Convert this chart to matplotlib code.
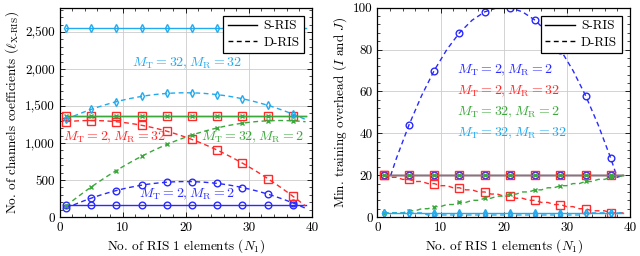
import numpy as np
import matplotlib
matplotlib.use("Agg")
import matplotlib.pyplot as plt
from matplotlib.ticker import FuncFormatter, MultipleLocator
from matplotlib.lines import Line2D

plt.rcParams['font.family'] = ['cmr10', 'DejaVu Serif']
plt.rcParams['mathtext.fontset'] = 'cm'
plt.rcParams['axes.unicode_minus'] = False

# number of RIS 1 elements (N1), total N = 40
n1 = np.arange(1, 40)

# --- left: number of channel coefficients ---
# S-RIS (constant in N1)
coef_s_22 = 160
coef_s_232 = 1360
coef_s_322 = 1360
coef_s_3232 = 2560
# D-RIS
coef_d_22 = [119, 156, 191, 224, 255, 284, 311, 336, 359, 380, 399, 416, 431, 444, 455, 464, 471, 476, 479, 480,
             479, 476, 471, 464, 455, 444, 431, 416, 399, 380, 359, 336, 311, 284, 255, 224, 191, 156, 119]
coef_d_232 = [1289, 1296, 1301, 1304, 1305, 1304, 1301, 1296, 1289, 1280, 1269, 1256, 1241, 1224, 1205, 1184, 1161,
              1136, 1109, 1080, 1049, 1016, 981, 944, 905, 864, 821, 776, 729, 680, 629, 576, 521, 464, 405, 344,
              281, 216, 149]
coef_d_322 = [149, 216, 281, 344, 405, 464, 521, 576, 629, 680, 729, 776, 821, 864, 905, 944, 981, 1016, 1049, 1080,
              1109, 1136, 1161, 1184, 1205, 1224, 1241, 1256, 1269, 1280, 1289, 1296, 1301, 1304, 1305, 1304, 1301,
              1296, 1289]
coef_d_3232 = [1319, 1356, 1391, 1424, 1455, 1484, 1511, 1536, 1559, 1580, 1599, 1616, 1631, 1644, 1655, 1664, 1671,
               1676, 1679, 1680, 1679, 1676, 1671, 1664, 1655, 1644, 1631, 1616, 1599, 1580, 1559, 1536, 1511, 1484,
               1455, 1424, 1391, 1356, 1319]

# --- right: minimum training overhead ---
ovh_s_22 = 20
ovh_s_232 = 20
ovh_s_322 = 20
ovh_s_3232 = 2
ovh_d_22 = [20, 19, 28, 36, 44, 51, 58, 64, 70, 75, 80, 84, 88, 91, 94, 96, 98, 99, 100, 100,
            100, 99, 98, 96, 94, 91, 88, 84, 80, 75, 70, 64, 58, 51, 44, 36, 28, 19, 20]
ovh_d_232 = [20, 19, 19, 18, 18, 17, 17, 16, 16, 15, 15, 14, 14, 13, 13, 12, 12, 11, 11, 10,
             10, 9, 9, 8, 8, 7, 7, 6, 6, 5, 5, 4, 4, 3, 3, 3, 2, 2, 2]
ovh_d_322 = [2, 2, 2, 2, 3, 3, 4, 4, 5, 5, 6, 6, 7, 7, 8, 8, 9, 9, 10, 10,
             11, 11, 12, 12, 13, 13, 14, 14, 15, 15, 16, 16, 17, 17, 18, 18, 19, 19, 20]
ovh_d_3232 = [2, 2, 2, 2, 2, 2, 2, 1, 1, 1, 1, 1, 1, 1, 1, 1, 1, 1, 1, 1,
              1, 1, 1, 1, 1, 1, 1, 1, 1, 1, 1, 1, 2, 2, 2, 2, 2, 2, 2]

blue = '#2a2aff'
red = '#ff2a2a'
green = '#3aa83a'
cyan = '#22aaee'

styles = [  # color, marker, marker size
    (blue, 'o', 4.8),
    (red, 's', 5.2),
    (green, 'x', 3.5),
    (cyan, 'd', 4.2),
]

fig, (ax1, ax2) = plt.subplots(1, 2, figsize=(6.4, 2.56), dpi=100)
fig.subplots_adjust(left=0.093, right=0.984, top=0.97, bottom=0.152, wspace=0.26)


def draw(ax, s_vals, d_vals):
    for (c, m, ms), s, d in zip(styles, s_vals, d_vals):
        ax.plot(n1, [s] * len(n1), color=c, lw=1.0, marker=m, ms=ms, mfc='none',
                mew=1.0, markevery=4)
        ax.plot(n1, d, color=c, lw=1.0, ls=(0, (3.5, 2.5)), marker=m, ms=ms, mfc='none',
                mew=1.0, markevery=4)


def style(ax):
    ax.set_xlim(0, 40)
    ax.xaxis.set_major_locator(MultipleLocator(10))
    ax.xaxis.set_minor_locator(MultipleLocator(2))
    ax.grid(True, which='major', color='#cccccc', lw=0.6)
    ax.set_axisbelow(True)
    ax.tick_params(which='both', direction='in', top=True, right=True, labelsize=9.5)
    ax.tick_params(which='major', length=3.5, width=0.6)
    ax.tick_params(which='minor', length=2, width=0.5)
    for sp in ax.spines.values():
        sp.set_linewidth(0.9)
    ax.set_xlabel('No. of RIS 1 elements ($N_1$)', fontsize=9.5, labelpad=2)
    handles = [Line2D([], [], color='k', lw=1.0, ls='-'),
               Line2D([], [], color='k', lw=1.0, ls=(0, (3.5, 2.5)))]
    leg = ax.legend(handles, ['S-RIS', 'D-RIS'], loc='upper right', fontsize=9.5,
                    fancybox=False, framealpha=1, edgecolor='k', handlelength=2.2,
                    borderpad=0.35, labelspacing=0.3, borderaxespad=0.6, handletextpad=0.5)
    leg.get_frame().set_linewidth(0.9)


draw(ax1, [coef_s_22, coef_s_232, coef_s_322, coef_s_3232],
     [coef_d_22, coef_d_232, coef_d_322, coef_d_3232])
style(ax1)
ax1.set_ylim(0, 2830)
ax1.yaxis.set_major_locator(MultipleLocator(500))
ax1.yaxis.set_minor_locator(MultipleLocator(100))
ax1.yaxis.set_major_formatter(FuncFormatter(lambda v, p: f'{v:,.0f}'))
ax1.set_ylabel(r'No. of channels coefficients ($\ell_{\mathrm{X\text{-}RIS}}$)', fontsize=9.5, labelpad=3)
ax1.text(20.2, 2080, r'$M_\mathrm{T} = 32, M_\mathrm{R} = 32$', color=cyan, fontsize=10, ha='center', va='center')
ax1.text(8.7, 1080, r'$M_\mathrm{T} = 2, M_\mathrm{R} = 32$', color=red, fontsize=10, ha='center', va='center')
ax1.text(30.6, 1080, r'$M_\mathrm{T} = 32, M_\mathrm{R} = 2$', color=green, fontsize=10, ha='center', va='center')
ax1.text(20.2, 310, r'$M_\mathrm{T} = 2, M_\mathrm{R} = 2$', color=blue, fontsize=10, ha='center', va='center')

draw(ax2, [ovh_s_22, ovh_s_232, ovh_s_322, ovh_s_3232],
     [ovh_d_22, ovh_d_232, ovh_d_322, ovh_d_3232])
style(ax2)
ax2.set_ylim(0, 100)
ax2.yaxis.set_major_locator(MultipleLocator(20))
ax2.yaxis.set_minor_locator(MultipleLocator(4))
ax2.set_ylabel(r'Min. training overhead ($I$ and $J$)', fontsize=9.5, labelpad=3)
ax2.text(12.6, 70, r'$M_\mathrm{T} = 2, M_\mathrm{R} = 2$', color=blue, fontsize=10, ha='left', va='center')
ax2.text(12.6, 60, r'$M_\mathrm{T} = 2, M_\mathrm{R} = 32$', color=red, fontsize=10, ha='left', va='center')
ax2.text(12.6, 50, r'$M_\mathrm{T} = 32, M_\mathrm{R} = 2$', color=green, fontsize=10, ha='left', va='center')
ax2.text(12.6, 40, r'$M_\mathrm{T} = 32, M_\mathrm{R} = 32$', color=cyan, fontsize=10, ha='left', va='center')

fig.savefig('out.png', dpi=100)
